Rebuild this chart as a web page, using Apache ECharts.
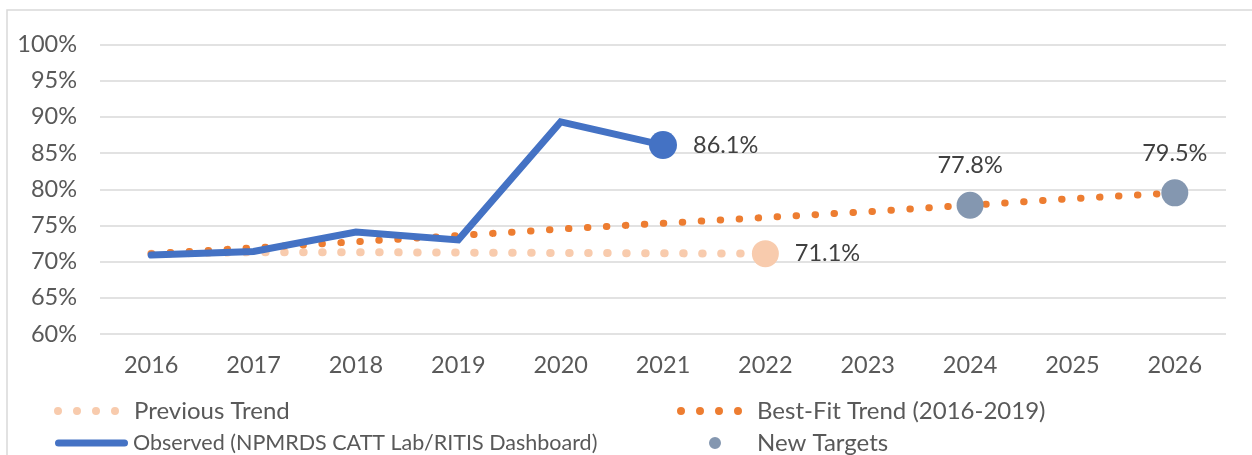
<!DOCTYPE html>
<html>
<head>
<meta charset="utf-8">
<script src="https://cdn.jsdelivr.net/npm/echarts@6/dist/echarts.min.js"></script>
<style>
html,body{margin:0;padding:0;background:#fff;}
#chart{width:1252px;height:455px;}
</style>
</head>
<body>
<div id="chart"></div>
<script>
const years = ['2016','2017','2018','2019','2020','2021','2022','2023','2024','2025','2026'];
const previousTrend = [71.1, 71.3, 71.3, 71.25, 71.2, 71.15, 71.1];
const bestFitTrend = [71.1, 71.9, 72.75, 73.6, 74.5, 75.3, 76.1, 76.9, 77.8, 78.7, 79.5];
const observed = [70.9, 71.4, 74.1, 73.0, 89.3, 86.1];
const newTargets = [null, null, null, null, null, null, null, null, 77.8, null, 79.5];
const yTicks = {min: 60, max: 100, interval: 5};

const FONT = 'Lato';
const dotsPath = 'path://M0,4 A4,4 0 1 1 8,4 A4,4 0 1 1 0,4 Z M19,4 A4,4 0 1 1 27,4 A4,4 0 1 1 19,4 Z M38,4 A4,4 0 1 1 46,4 A4,4 0 1 1 38,4 Z M57,4 A4,4 0 1 1 65,4 A4,4 0 1 1 57,4 Z M74.99,4 A0.005,0.005 0 1 1 75,4 A0.005,0.005 0 1 1 74.99,4 Z';
const barPath = 'path://M3.5,0 L69.5,0 A3.5,3.5 0 0 1 69.5,7 L3.5,7 A3.5,3.5 0 0 1 3.5,0 Z';
const circPath = 'path://M0,6 A6,6 0 1 1 12,6 A6,6 0 1 1 0,6 Z M42.99,6 A0.005,0.005 0 1 1 43,6 A0.005,0.005 0 1 1 42.99,6 Z';

function lastMarked(arr, size, pos, dist) {
  return arr.map((v, i) => {
    if (i !== arr.length - 1) return v;
    return {
      value: v, symbol: 'circle', symbolSize: size,
      label: {show: true, position: pos, distance: dist, formatter: v.toFixed(1) + '%',
        color: '#404040', fontFamily: FONT, fontSize: 23.5}
    };
  });
}

const legendText = {color: '#595959', fontFamily: FONT, fontSize: 24};
const legendTextNarrow = {color: '#595959', fontFamily: FONT, fontSize: 21.5};
const chart = echarts.init(document.getElementById('chart'), null, {renderer: 'canvas'});
chart.setOption({
  animation: false,
  graphic: [{type: 'rect', shape: {x: 7, y: 10, width: 1400, height: 600},
    style: {fill: 'none', stroke: '#d9d9d9', lineWidth: 1.5}, silent: true, z: -10}],
  grid: {left: 100, right: 26, top: 44.5, bottom: 121},
  xAxis: {
    type: 'category', data: years, boundaryGap: true,
    axisLine: {show: false}, axisTick: {show: false},
    axisLabel: {color: '#595959', fontFamily: FONT, fontSize: 23.5, margin: 19}
  },
  yAxis: {
    type: 'value', min: yTicks.min, max: yTicks.max, interval: yTicks.interval,
    axisLine: {show: false}, axisTick: {show: false},
    axisLabel: {color: '#595959', fontFamily: FONT, fontSize: 23.5, margin: 23, formatter: '{value}%'},
    splitLine: {lineStyle: {color: '#d9d9d9', width: 1.5}}
  },
  legend: [
    {data: [{name: 'Previous Trend', icon: dotsPath}], left: 54, top: 399, padding: 0,
      itemWidth: 75, itemHeight: 8, textStyle: legendText, itemStyle: {borderWidth: 0}},
    {data: [{name: 'Observed (NPMRDS CATT Lab/RITIS Dashboard)', icon: barPath}], left: 55, top: 432, padding: 0,
      itemWidth: 73, itemHeight: 7, textStyle: legendTextNarrow, itemStyle: {borderWidth: 0}},
    {data: [{name: 'Best-Fit Trend (2016-2019)', icon: dotsPath}], left: 677, top: 399, padding: 0,
      itemWidth: 75, itemHeight: 8, textStyle: legendText, itemStyle: {borderWidth: 0}},
    {data: [{name: 'New Targets', icon: circPath}], left: 709, top: 431, padding: 0,
      itemWidth: 43, itemHeight: 12, textStyle: legendText, itemStyle: {borderWidth: 0}}
  ],
  series: [
    {
      name: 'Previous Trend', type: 'line', z: 1, color: '#F8CBAD',
      data: lastMarked(previousTrend, 27, 'right', 16),
      symbol: 'none',
      lineStyle: {color: '#F8CBAD', width: 8, type: [0.5, 18.5], cap: 'round'},
      itemStyle: {color: '#F8CBAD', borderWidth: 0}
    },
    {
      name: 'Best-Fit Trend (2016-2019)', type: 'line', z: 2, color: '#ED7D31',
      data: bestFitTrend, symbol: 'none',
      lineStyle: {color: '#ED7D31', width: 7, type: [0.5, 18.5], cap: 'round'},
      itemStyle: {color: '#ED7D31', borderWidth: 0}
    },
    {
      name: 'Observed (NPMRDS CATT Lab/RITIS Dashboard)', type: 'line', z: 3, color: '#4472C4',
      data: lastMarked(observed, 28, 'right', 16), symbol: 'none',
      lineStyle: {color: '#4472C4', width: 7, cap: 'round', join: 'miter'},
      itemStyle: {color: '#4472C4', borderWidth: 0}
    },
    {
      name: 'New Targets', type: 'scatter', z: 4, color: '#8497B0',
      data: newTargets, symbol: 'circle', symbolSize: 27,
      itemStyle: {color: '#8497B0', opacity: 1},
      label: {show: true, position: 'top', distance: 14, formatter: p => p.value.toFixed(1) + '%',
        color: '#404040', fontFamily: FONT, fontSize: 23.5}
    }
  ]
});
</script>
</body>
</html>
